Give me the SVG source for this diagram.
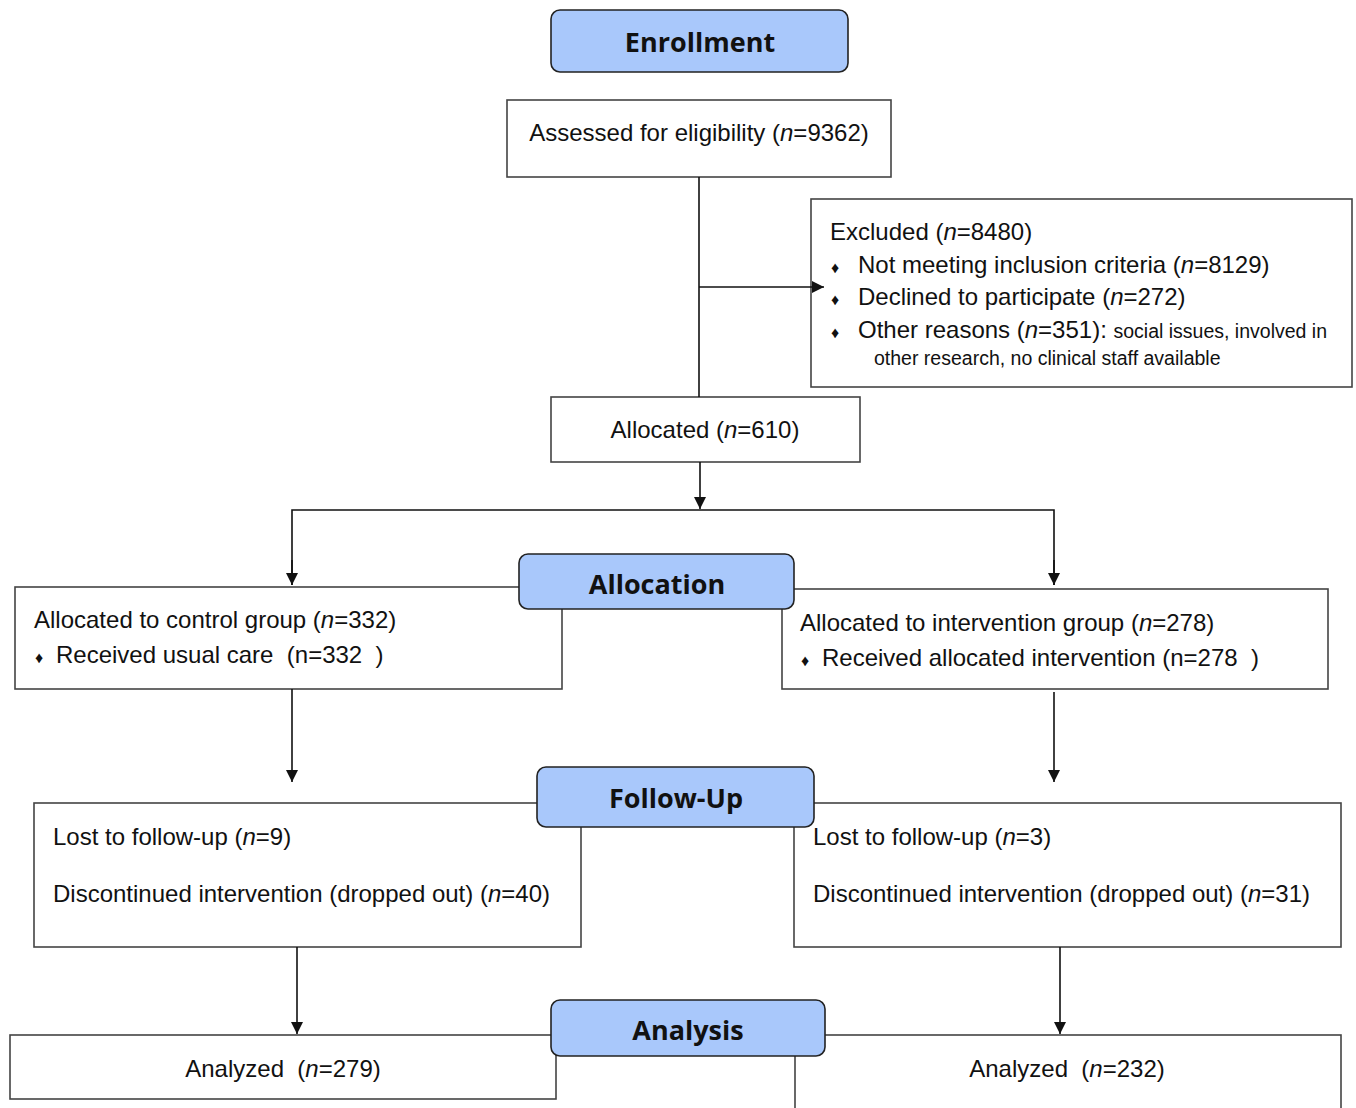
<svg xmlns="http://www.w3.org/2000/svg" width="1356" height="1108" viewBox="0 0 1356 1108">
<style>
.box{fill:#fff;stroke:#444;stroke-width:1.6}
.hdr{fill:#a9c8fb;stroke:#222;stroke-width:1.6}
.ht{font-family:"Open Sans","DejaVu Sans",sans-serif;font-weight:bold;font-size:27px;fill:#111;text-anchor:middle}
.t{font-family:"Liberation Sans",Arial,sans-serif;font-size:24px;fill:#111;white-space:pre}
.s{font-family:"Liberation Sans",Arial,sans-serif;font-size:19.5px;fill:#111}
.b{font-family:"Liberation Sans",Arial,sans-serif;font-size:16px;fill:#111}
.c{text-anchor:middle}
.ln{fill:none;stroke:#111;stroke-width:1.6}
</style>
<defs>
<marker id="ah" viewBox="0 0 12 12" refX="12" refY="6" markerWidth="12" markerHeight="12" markerUnits="userSpaceOnUse" orient="auto">
<path d="M0,0 L12,6 L0,12 Z" fill="#111"/>
</marker>
</defs>
<g id="assessed">
<rect class="box" x="507" y="100" width="384" height="77"/>
<text class="t c" x="699" y="141">Assessed for eligibility (<tspan font-style="italic">n</tspan>=9362)</text>
</g>
<g id="excluded">
<rect class="box" x="811" y="199" width="541" height="188"/>
<text class="t" x="830" y="240">Excluded (<tspan font-style="italic">n</tspan>=8480)</text>
<text class="b" x="831" y="273">♦</text>
<text class="t" x="858" y="273">Not meeting inclusion criteria (<tspan font-style="italic">n</tspan>=8129)</text>
<text class="b" x="831" y="305">♦</text>
<text class="t" x="858" y="305">Declined to participate (<tspan font-style="italic">n</tspan>=272)</text>
<text class="b" x="831" y="338">♦</text>
<text class="t" x="858" y="338">Other reasons (<tspan font-style="italic">n</tspan>=351): <tspan font-size="19.5">social issues, involved in</tspan></text>
<text class="s" x="874" y="365">other research, no clinical staff available</text>
</g>
<g id="allocated">
<rect class="box" x="551" y="397" width="309" height="65"/>
<text class="t c" x="705" y="438">Allocated (<tspan font-style="italic">n</tspan>=610)</text>
</g>
<g id="control">
<rect class="box" x="15" y="587" width="547" height="102"/>
<text class="t" x="34" y="628">Allocated to control group (<tspan font-style="italic">n</tspan>=332)</text>
<text class="b" x="35" y="663">♦</text>
<text class="t" x="56" y="663">Received usual care  (n=332  )</text>
</g>
<g id="intervention">
<rect class="box" x="782" y="589" width="546" height="100"/>
<text class="t" x="800" y="631">Allocated to intervention group (<tspan font-style="italic">n</tspan>=278)</text>
<text class="b" x="801" y="666">♦</text>
<text class="t" x="822" y="666">Received allocated intervention (n=278  )</text>
</g>
<g id="followLeft">
<rect class="box" x="34" y="803" width="547" height="144"/>
<text class="t" x="53" y="845">Lost to follow-up (<tspan font-style="italic">n</tspan>=9)</text>
<text class="t" x="53" y="902">Discontinued intervention (dropped out) (<tspan font-style="italic">n</tspan>=40)</text>
</g>
<g id="followRight">
<rect class="box" x="794" y="803" width="547" height="144"/>
<text class="t" x="813" y="845">Lost to follow-up (<tspan font-style="italic">n</tspan>=3)</text>
<text class="t" x="813" y="902">Discontinued intervention (dropped out) (<tspan font-style="italic">n</tspan>=31)</text>
</g>
<g id="analyzedLeft">
<rect class="box" x="10" y="1035" width="546" height="64"/>
<text class="t c" x="283" y="1077">Analyzed  (<tspan font-style="italic">n</tspan>=279)</text>
</g>
<g id="analyzedRight">
<rect class="box" x="795" y="1035" width="546" height="90"/>
<text class="t c" x="1067" y="1077">Analyzed  (<tspan font-style="italic">n</tspan>=232)</text>
</g>
<g id="connectors">
<path class="ln" d="M699,177 V397"/>
<path class="ln" d="M699,287 H824" marker-end="url(#ah)"/>
<path class="ln" d="M700,462 V509" marker-end="url(#ah)"/>
<path class="ln" d="M292,585 V510 H1054 V585"/>
<path class="ln" d="M292,560 V585" marker-end="url(#ah)"/>
<path class="ln" d="M1054,560 V585" marker-end="url(#ah)"/>
<path class="ln" d="M292,689 V782" marker-end="url(#ah)"/>
<path class="ln" d="M1054,692 V782" marker-end="url(#ah)"/>
<path class="ln" d="M297,947 V1034" marker-end="url(#ah)"/>
<path class="ln" d="M1060,947 V1034" marker-end="url(#ah)"/>
</g>
<g id="hdrEnrollment">
<rect class="hdr" x="551" y="10" width="297" height="62" rx="9"/>
<text class="ht" x="700" y="52">Enrollment</text>
</g>
<g id="hdrAllocation">
<rect class="hdr" x="519" y="554" width="275" height="55" rx="9"/>
<text class="ht" x="657" y="594">Allocation</text>
</g>
<g id="hdrFollowUp">
<rect class="hdr" x="537" y="767" width="277" height="60" rx="9"/>
<text class="ht" x="676" y="808">Follow-Up</text>
</g>
<g id="hdrAnalysis">
<rect class="hdr" x="551" y="1000" width="274" height="56" rx="9"/>
<text class="ht" x="688" y="1040">Analysis</text>
</g>
</svg>
